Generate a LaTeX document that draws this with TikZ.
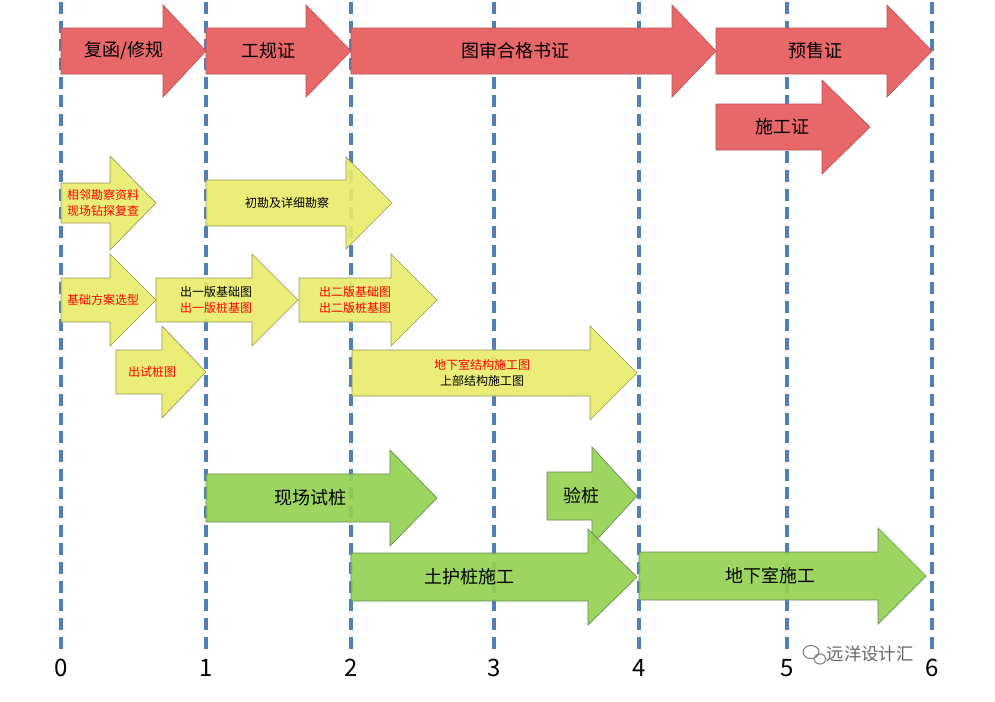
\documentclass[tikz,border=0pt]{standalone}
\usepackage{fontspec}
\setmainfont{Noto Sans CJK SC}
\begin{document}
\begin{tikzpicture}[x=0.75pt,y=-0.75pt,
  dashline/.style={draw=blue!55!cyan!60!black!80, line width=2.3pt, dash pattern=on 9pt off 5pt, opacity=0.85},
  redarr/.style={fill={rgb,255:red,232;green,104;blue,106}, draw={rgb,255:red,190;green,80;blue,80}, line width=0.5pt},
  yelarr/.style={fill={rgb,255:red,232;green,236;blue,106}, draw={rgb,255:red,150;green,150;blue,90}, line width=0.5pt, fill opacity=0.9},
  grnarr/.style={fill={rgb,255:red,146;green,208;blue,80}, draw={rgb,255:red,100;green,140;blue,80}, line width=0.5pt, fill opacity=0.9},
  big/.style={font=\fontsize{13.5}{16}\selectfont},
  small/.style={font=\fontsize{9}{11.5}\selectfont, align=center},
  axis/.style={font=\fontsize{18}{20}\selectfont}]
\useasboundingbox (0,0) rectangle (995,701);
% args: style, x1, xh, x2, yc, body half, head half
\newcommand\blockarr[7]{\path[#1] (#2,#5-#6) -- (#3,#5-#6) -- (#3,#5-#7) -- (#4,#5) -- (#3,#5+#7) -- (#3,#5+#6) -- (#2,#5+#6) -- cycle;}
\foreach \i/\x in {0/61,1/206,2/351,3/494,4/639,5/787,6/932}{
  \draw[dashline] (\x,2) -- (\x,652);
  \node[axis] (ax\i) at (\x,668) {\i};
}
% red
\blockarr{redarr}{61}{163}{206}{51}{23}{46}
\node[big] (r1) at (124,51) {复函/修规};
\blockarr{redarr}{206}{306}{351}{51}{23}{46}
\node[big] (r2) at (268,51) {工规证};
\blockarr{redarr}{351}{672}{716}{51}{23}{46}
\node[big] (r3) at (515,51) {图审合格书证};
\blockarr{redarr}{716}{887}{932}{51}{23}{46}
\node[big] (r4) at (815,51) {预售证};
\blockarr{redarr}{716}{822}{870}{127}{23}{47}
\node[big] (r5) at (782,127) {施工证};
% yellow
\blockarr{yelarr}{61}{110}{156}{203}{20}{47}
\node[small,text=red] (y1) at (103,203) {相邻勘察资料\\现场钻探复查};
\blockarr{yelarr}{206}{346}{392}{203}{23}{46}
\node[small] (y2) at (287,203) {初勘及详细勘察};
\blockarr{yelarr}{61}{110}{156}{300}{22}{46}
\node[small,text=red] (y3) at (103,300) {基础方案选型};
\blockarr{yelarr}{156}{252}{298}{300}{22}{46}
\node[small] (y4) at (216,300) {出一版基础图\\\textcolor{red}{出一版桩基图}};
\blockarr{yelarr}{299}{391}{437}{300}{22}{46}
\node[small,text=red] (y5) at (355,300) {出二版基础图\\出二版桩基图};
\blockarr{yelarr}{116}{162}{206}{372}{22}{46}
\node[small,text=red] (y6) at (152,372) {出试桩图};
\blockarr{yelarr}{352}{590}{637}{373}{23}{47}
\node[small] (y7) at (482,373) {\textcolor{red}{地下室结构施工图}\\上部结构施工图};
% green
\blockarr{grnarr}{206}{390}{437}{498}{24}{48}
\node[big] (g1) at (310,498) {现场试桩};
\blockarr{grnarr}{547}{592}{637}{496}{24}{49}
\node[big] (g2) at (581,496) {验桩};
\blockarr{grnarr}{351}{588}{637}{577}{24}{48}
\node[big] (g3) at (469,577) {土护桩施工};
\blockarr{grnarr}{639}{878}{926}{576}{24}{48}
\node[big] (g4) at (770,576) {地下室施工};
% watermark
\node[font=\fontsize{13}{15}\selectfont, text=black!60] (wm) at (870,654) {远洋设计汇};
\draw[black!50, line width=0.8pt] (811,652) ellipse (8 and 6.5) (820,659) ellipse (6 and 5);
\end{tikzpicture}
\end{document}
